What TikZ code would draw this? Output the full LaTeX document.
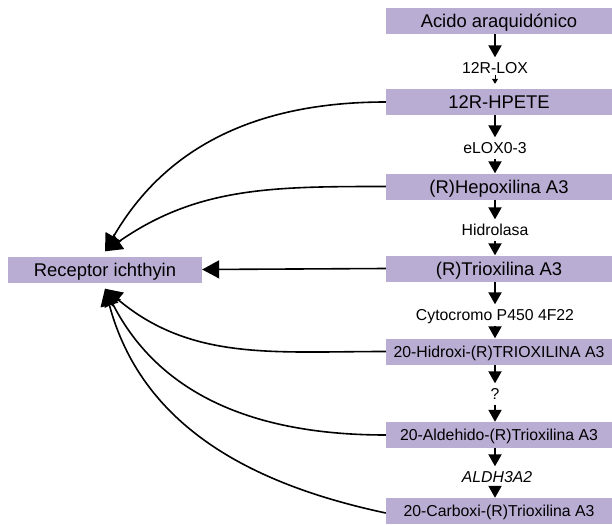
\documentclass[tikz,border=0pt]{standalone}
\usepackage{fontspec}
\setmainfont{Liberation Sans}
\usetikzlibrary{arrows.meta}
\definecolor{boxfill}{RGB}{185,173,211}
\begin{document}
\begin{tikzpicture}[x=1pt,y=1pt,
  mainbox/.style={fill=boxfill, minimum width=226pt, minimum height=26pt, inner sep=0pt, text height=13.2pt, text depth=0pt, font=\fontsize{18.4}{20}\selectfont},
  smallbox/.style={mainbox, font=\fontsize{15.8}{18}\selectfont, text height=11.4pt},
  lab/.style={inner sep=0pt, minimum height=21pt, text height=11.4pt, text depth=0pt, font=\fontsize{15.8}{18}\selectfont},
  flow/.style={line width=2pt, -{Triangle[length=12pt,width=13pt]}},
  tiny/.style={line width=1pt, -{Triangle[length=5pt,width=6pt]}},
  curv/.style={line width=1.6pt, -{Triangle[length=17pt,width=18pt]}}]
\useasboundingbox (0,0) rectangle (612,-524);
\node[mainbox] (b1) at (499,-21) {Acido araquidónico};
\node[mainbox] (b2) at (499,-102) {12R-HPETE};
\node[mainbox] (b3) at (499,-186.5) {(R)Hepoxilina A3};
\node[mainbox] (b4) at (499,-268.5) {(R)Trioxilina A3};
\node[smallbox] (b5) at (499,-351.5) {20-Hidroxi-(R)TRIOXILINA A3};
\node[smallbox] (b6) at (499,-435) {20-Aldehido-(R)Trioxilina A3};
\node[smallbox] (b7) at (499,-511) {20-Carboxi-(R)Trioxilina A3};
\node[mainbox, minimum width=194pt] (rec) at (105,-269.5) {Receptor ichthyin};
\node[lab] (l1) at (495,-68) {12R-LOX};
\node[lab] (l2) at (495,-148) {eLOX0-3};
\node[lab] (l3) at (495,-230) {Hidrolasa};
\node[lab] (l4) at (495,-315) {Cytocromo P450 4F22};
\node[lab] (l5) at (495,-394) {?};
\node[lab, font=\fontsize{15.8}{18}\selectfont\itshape] (l6) at (497,-477) {ALDH3A2};
\draw[flow] (b1.south -| l1) -- (l1.north);
\draw[tiny, shorten >=5pt] ([yshift=4pt]l1.south) -- (b2.north -| l1);
\draw[flow] (b2.south -| l2) -- (l2.north);
\draw[flow] (l2.south) -- (b3.north -| l2);
\draw[flow] (b3.south -| l3) -- (l3.north);
\draw[flow] (l3.south) -- (b4.north -| l3);
\draw[flow] (b4.south -| l4) -- (l4.north);
\draw[flow] (l4.south) -- (b5.north -| l4);
\draw[flow] (b5.south -| l5) -- (l5.north);
\draw[flow] (l5.south) -- (b6.north -| l5);
\draw[flow] (b6.south -| l5) -- (l6.north -| l5);
\draw[flow] (l6.south -| l5) -- (b7.north -| l5);
\draw[curv] (b2.west) to[out=180,in=60] ([yshift=5pt]rec.north);
\draw[curv] (b3.west) to[out=180,in=35] ([yshift=5pt]rec.north);
\draw[curv] (b4.west) -- (rec.east);
\draw[curv] (b5.west) to[out=180,in=-40] ([yshift=-6pt]rec.south);
\draw[curv] (b6.west) to[out=180,in=-63] ([yshift=-6pt]rec.south);
\draw[curv] ([yshift=-2pt]b7.west) to[out=168,in=-75] ([yshift=-6pt]rec.south);
\end{tikzpicture}
\end{document}
